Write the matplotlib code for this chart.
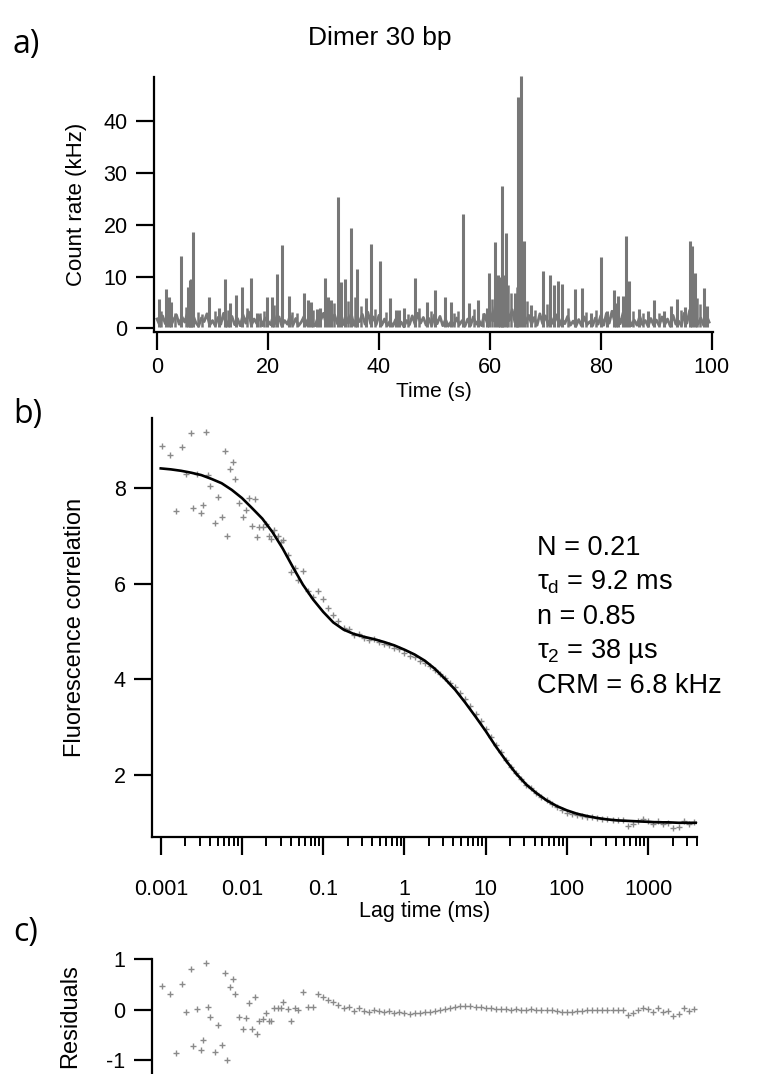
import numpy as np
import matplotlib
matplotlib.use("Agg")
import matplotlib.pyplot as plt
from matplotlib.ticker import FixedLocator, FixedFormatter, NullFormatter

# ---------------- data ----------------
# panel a: count-rate trace (kHz); baseline sampled every 0.5 s, plus burst spikes
baseline_t0, baseline_dt = 0.0, 0.5
baseline = [
    1.8, 0.6, 2.4, 0.9, 3.1, 0.5, 1.7, 2.6, 0.8, 2.2, 1.2, 3.0, 0.7, 2.5, 1.1, 0.4, 2.0, 1.3, 2.8, 0.6,
    1.5, 0.5, 2.1, 0.8, 2.9, 0.4, 1.6, 2.3, 0.7, 1.9, 0.5, 2.6, 1.0, 3.2, 0.6, 1.8, 0.9, 2.4, 0.5, 2.0,
    1.4, 0.7, 2.7, 0.9, 2.2, 0.4, 1.5, 0.8, 2.5, 0.6, 1.9, 0.5, 1.2, 2.3, 0.6, 2.8, 1.1, 0.5, 2.1, 1.6,
    2.9, 0.8, 3.4, 1.2, 2.6, 0.9, 3.0, 0.7, 2.4, 1.0, 2.8, 0.6, 2.0, 1.3, 2.7, 0.8, 3.1, 0.9, 2.2, 0.7,
    2.5, 0.6, 1.8, 0.5, 1.4, 0.4, 1.7, 0.6, 1.2, 0.3, 1.5, 0.7, 2.4, 0.8, 2.9, 1.0, 2.1, 0.6, 1.9, 0.5,
    2.6, 0.9, 2.3, 0.5, 1.7, 0.4, 1.3, 0.6, 2.0, 0.7, 1.5, 0.4, 1.8, 0.5, 2.2, 0.8, 1.6, 0.5, 2.7, 1.1,
    3.2, 1.4, 4.5, 1.8, 5.2, 2.0, 4.1, 1.5, 3.6, 1.2, 4.8, 2.2, 3.9, 1.0, 2.5, 0.8, 2.1, 0.6, 2.8, 0.9,
    2.4, 0.7, 2.0, 0.8, 2.6, 0.5, 1.8, 0.9, 2.3, 0.6, 1.4, 0.4, 1.7, 0.5, 2.2, 0.7, 1.3, 0.5, 2.0, 0.8,
    2.5, 0.6, 2.9, 1.0, 3.3, 1.2, 2.7, 0.9, 3.0, 0.8, 2.1, 0.5, 1.6, 0.6, 2.3, 0.7, 1.5, 0.4, 1.9, 0.6,
    1.6, 0.5, 2.2, 0.7, 1.8, 0.4, 2.5, 0.8, 1.4, 0.5, 2.9, 1.0, 3.5, 1.3, 2.4, 0.8, 2.0, 0.6, 2.6, 1.2,
]
spike_t = [0.3, 1.6, 2.1, 2.5, 4.3, 5.6, 5.9, 6.2, 6.5, 9.3, 11.2, 12.3, 13.2, 14.2, 15.4,
           17.0, 18.0, 19.8, 20.7, 21.6, 22.6, 23.7, 26.5, 27.3, 27.7, 28.8, 29.3, 30.3, 30.9, 31.4,
           32.7, 33.1, 33.9, 35.0, 36.0, 37.6, 38.6, 40.2, 42.0, 43.0, 43.6, 44.6, 46.5, 48.7, 50.1,
           51.9, 52.9, 55.1, 56.3, 57.9, 59.4, 59.9, 61.0, 61.5, 61.9, 62.1, 62.4, 62.9, 64.5, 65.1,
           65.6, 66.1, 67.4, 69.5, 70.9, 71.6, 72.3, 73.0, 75.4, 76.6, 78.2, 80.0, 81.1, 82.3, 83.1,
           83.9, 84.5, 85.1, 86.9, 88.5, 89.6, 91.3, 92.6, 93.8, 95.2, 96.0, 96.5, 96.9, 98.6, 99.2]
spike_h = [5.6, 7.5, 6.0, 5.0, 14.0, 8.0, 9.3, 9.5, 18.5, 6.1, 3.9, 9.6, 4.9, 6.4, 7.9,
           9.8, 3.0, 6.1, 6.0, 10.4, 16.1, 6.2, 6.9, 5.4, 5.0, 3.8, 4.0, 9.8, 6.0, 5.5,
           25.3, 9.0, 9.5, 19.4, 11.4, 5.9, 16.3, 13.0, 5.8, 3.5, 3.6, 4.0, 9.8, 5.1, 7.4,
           6.1, 5.0, 22.0, 4.8, 5.4, 3.9, 10.6, 16.6, 10.3, 10.0, 27.5, 10.2, 18.3, 6.9, 44.7,
           48.6, 16.8, 4.5, 11.1, 10.3, 8.3, 9.2, 8.6, 7.5, 7.8, 3.0, 13.8, 3.4, 7.4, 6.3,
           6.3, 17.9, 9.2, 3.8, 3.3, 5.4, 3.3, 4.3, 5.7, 4.2, 16.8, 15.8, 10.6, 7.7, 4.4]
# smaller bursts filling the background
small_t = [0.8, 3.2, 5.2, 7.3, 8.1, 10.4, 12.8, 16.3, 18.6, 19.3, 21.1, 24.4, 25.3, 28.2, 31.9,
           34.4, 35.6, 36.8, 39.3, 41.2, 45.3, 47.2, 49.4, 53.6, 54.3, 57.2, 58.7, 60.4, 63.3, 63.8,
           64.9, 66.7, 68.2, 70.2, 74.1, 77.3, 79.1, 82.8, 85.8, 87.6, 90.4, 94.4, 97.4, 97.9]
small_h = [3.4, 3.0, 4.2, 3.1, 2.8, 3.3, 3.6, 3.9, 2.9, 3.4, 4.5, 3.2, 2.9, 3.6, 4.8,
           5.2, 6.1, 4.3, 3.7, 3.2, 2.8, 3.9, 3.3, 2.9, 3.4, 3.8, 3.0, 5.6, 8.4, 6.8,
           7.9, 5.3, 3.5, 4.6, 3.9, 3.1, 3.5, 4.8, 3.4, 3.0, 2.9, 3.6, 5.8, 4.7]

# panel b/c: correlation data (lag in ms), correlation value, residual
lag = [0.00105, 0.00129, 0.00155, 0.00182, 0.00204, 0.00234, 0.00251, 0.00282, 0.00309, 0.00331,
       0.00363, 0.00385, 0.00404, 0.00465, 0.00511, 0.00562, 0.00617, 0.00661, 0.00710, 0.00767,
       0.00818, 0.00908, 0.01035, 0.01117, 0.01225, 0.01334, 0.01439, 0.01510, 0.01626, 0.01807,
       0.01959, 0.02158, 0.02307, 0.02472, 0.02754, 0.03034, 0.03236, 0.03715, 0.03981, 0.04539,
       0.04898,
       0.0562, 0.0649, 0.0750, 0.0866, 0.100, 0.1155, 0.1334, 0.154, 0.178, 0.205, 0.237, 0.274,
       0.316, 0.365, 0.422, 0.487, 0.562, 0.649, 0.750, 0.866, 1.0, 1.155, 1.334, 1.54, 1.78,
       2.05, 2.37, 2.74, 3.16, 3.65, 4.22, 4.87, 5.62, 6.49, 7.50, 8.66, 10.0, 11.55, 13.34, 15.4,
       17.8, 20.5, 23.7, 27.4, 31.6, 36.5, 42.2, 48.7, 56.2, 64.9, 75.0, 86.6, 100, 115.5, 133.4,
       154, 178, 205, 237, 274, 316, 365, 422, 487, 562, 649, 750, 866, 1000, 1155, 1334, 1540,
       1780, 2050, 2370, 2740, 3160, 3650]
corr = [8.88, 8.70, 7.52, 8.86, 8.29, 9.14, 7.59, 8.29, 7.47, 7.65,
        9.17, 8.28, 8.04, 7.27, 7.81, 7.40, 8.77, 7.00, 8.39, 8.55,
        8.19, 7.68, 7.39, 7.53, 7.80, 7.21, 7.78, 6.98, 7.19, 7.18,
        7.24, 7.00, 6.94, 7.12, 7.00, 6.87, 6.91, 6.59, 6.25, 6.33,
        6.08,
        6.27, 5.84, 5.72, 5.84, 5.67, 5.50, 5.34, 5.21, 5.08, 5.05, 4.93, 4.95,
        4.87, 4.83, 4.84, 4.78, 4.73, 4.72, 4.65, 4.63, 4.55, 4.49, 4.46, 4.39, 4.34,
        4.27, 4.19, 4.12, 4.02, 3.93, 3.83, 3.72, 3.59, 3.44, 3.28, 3.12, 2.96, 2.79, 2.62, 2.47,
        2.31, 2.17, 2.04, 1.91, 1.80, 1.72, 1.62, 1.54, 1.47, 1.40, 1.33, 1.27, 1.21, 1.19, 1.16,
        1.15, 1.13, 1.12, 1.10, 1.08, 1.07, 1.05, 1.05, 1.05, 0.94, 0.98, 1.03, 1.07, 1.03, 0.97, 1.04, 0.97,
        0.99, 0.89, 0.91, 1.04, 0.97, 1.02]
resid = [0.47, 0.30, -0.86, 0.50, -0.05, 0.81, -0.71, 0.01, -0.79, -0.60,
         0.92, 0.06, -0.15, -0.84, -0.30, -0.70, 0.72, -1.00, 0.45, 0.61,
         0.30, -0.15, -0.38, -0.17, 0.14, -0.38, 0.25, -0.48, -0.22, -0.19,
         -0.06, -0.22, -0.22, 0.03, 0.03, 0.03, 0.16, 0.02, -0.22, 0.03,
         0.00,
         0.34, 0.05, 0.06, 0.30, 0.25, 0.20, 0.16, 0.10, 0.04, 0.06, -0.02, 0.03,
         -0.02, -0.04, 0.00, -0.03, -0.05, -0.03, -0.06, -0.04, -0.07, -0.08, -0.06, -0.07, -0.05,
         -0.04, -0.03, 0.00, 0.01, 0.03, 0.05, 0.07, 0.08, 0.07, 0.06, 0.05, 0.04, 0.03, 0.02, 0.02,
         0.01, 0.00, 0.01, -0.01, 0.00, 0.01, 0.00, -0.01, 0.00, -0.01, -0.02, -0.04, -0.05, -0.04, -0.03,
         -0.02, -0.01, 0.00, 0.00, -0.01, 0.00, -0.01, 0.00, 0.00, -0.10, -0.06, 0.00, 0.04, 0.01, -0.05, 0.03, -0.04,
         -0.02, -0.12, -0.09, 0.04, -0.03, 0.02]

# fitted model curve
fit_lag = [0.001, 0.00133, 0.00178, 0.00237, 0.00316, 0.00422, 0.00562, 0.0075,
           0.01, 0.0133, 0.0178, 0.0237, 0.0316, 0.0422, 0.0562, 0.075,
           0.1, 0.133, 0.178, 0.237, 0.316, 0.422, 0.562, 0.75,
           1.0, 1.33, 1.78, 2.37, 3.16, 4.22, 5.62, 7.5,
           10, 13.3, 17.8, 23.7, 31.6, 42.2, 56.2, 75,
           100, 133, 178, 237, 316, 422, 562, 750,
           1000, 1330, 1780, 2370, 3160, 3980]
fit_val = [8.41, 8.39, 8.36, 8.32, 8.27, 8.19, 8.10, 7.96,
           7.79, 7.58, 7.36, 7.08, 6.74, 6.35, 5.98, 5.67,
           5.41, 5.19, 5.04, 4.95, 4.89, 4.84, 4.78, 4.71,
           4.62, 4.52, 4.39, 4.22, 4.01, 3.78, 3.51, 3.22,
           2.92, 2.60, 2.30, 2.03, 1.80, 1.62, 1.47, 1.35,
           1.26, 1.19, 1.14, 1.10, 1.07, 1.05, 1.04, 1.03,
           1.02, 1.01, 1.01, 1.00, 1.00, 1.00]

trace_a_ticks = [0, 20, 40, 60, 80, 100]
count_ticks = [0, 10, 20, 30, 40]
corr_ticks = [2, 4, 6, 8]
lag_ticks = [0.001, 0.01, 0.1, 1, 10, 100, 1000]
lag_tick_labels = ["0.001", "0.01", "0.1", "1", "10", "100", "1000"]
resid_ticks = [-1, 0, 1]
fit_params = ["N = 0.21", "τ$_{\\rm d}$ = 9.2 ms", "n = 0.85",
              "τ$_{2}$ = 38 µs", "CRM = 6.8 kHz"]

# ---------------- style ----------------
W, H = 757, 1074
plt.rcParams["font.family"] = ["Liberation Sans", "DejaVu Sans"]
plt.rcParams["mathtext.fontset"] = "custom"
plt.rcParams["mathtext.rm"] = "Liberation Sans"
plt.rcParams["mathtext.it"] = "Liberation Sans:italic"
plt.rcParams["axes.unicode_minus"] = False
GRAY = "#777777"
PGRAY = "#8a8a8a"
TICKFS = 15.5
XLABFS = 15
YLABFS = 16

fig = plt.figure(figsize=(W / 100, H / 100), dpi=100)


def px_axes(x0, y0, x1, y1):
    return fig.add_axes([x0 / W, 1 - y1 / H, (x1 - x0) / W, (y1 - y0) / H])


def style(ax):
    for s in ["top", "right"]:
        ax.spines[s].set_visible(False)
    for s in ["left", "bottom"]:
        ax.spines[s].set_linewidth(1.6)
    ax.tick_params(which="major", direction="out", length=13, width=1.6, labelsize=TICKFS)
    ax.tick_params(which="minor", direction="out", length=6.5, width=1.4)


# ---- panel a ----
axA = px_axes(154, 77, 713, 331.7)
style(axA)
bt = [baseline_t0 + i * baseline_dt for i in range(len(baseline))]
axA.plot(bt, baseline, color=GRAY, lw=2.0, clip_on=False)
axA.vlines(small_t, 0.3, small_h, color=GRAY, lw=1.8, clip_on=False)
axA.vlines(spike_t, 0.3, spike_h, color=GRAY, lw=2.2, clip_on=False)
axA.set_xlim(-0.54, 100.2)
axA.set_ylim(-0.65, 48.5)
axA.set_xticks(trace_a_ticks)
axA.set_yticks(count_ticks)
axA.tick_params(axis="x", pad=5)
axA.tick_params(axis="y", pad=6)
axA.set_xlabel("Time (s)", fontsize=XLABFS, labelpad=3)
axA.set_ylabel("Count rate (kHz)", fontsize=YLABFS, labelpad=12)

# ---- panel b ----
axB = px_axes(152, 418, 697, 837)
style(axB)
axB.set_xscale("log")
axB.plot(lag, corr, linestyle="none", marker="+", ms=5, mew=1.0, color=PGRAY)
axB.plot(fit_lag, fit_val, color="black", lw=1.9)
axB.set_xlim(0.00078, 4000)
axB.set_ylim(0.703, 9.464)
axB.set_yticks(corr_ticks)
axB.xaxis.set_major_locator(FixedLocator(lag_ticks))
axB.xaxis.set_major_formatter(FixedFormatter(lag_tick_labels))
minor_pos = [m * d for d in lag_ticks for m in range(2, 10) if m * d <= 4000]
axB.xaxis.set_minor_locator(FixedLocator(minor_pos))
axB.xaxis.set_minor_formatter(NullFormatter())
axB.tick_params(axis="x", which="major", pad=17)
axB.tick_params(axis="y", pad=6)
axB.set_xlabel("Lag time (ms)", fontsize=XLABFS + 0.5, labelpad=1)
axB.set_ylabel("Fluorescence correlation", fontsize=YLABFS + 1, labelpad=20)

for i, s in enumerate(fit_params):
    fig.text(537 / W, 1 - (548 + 34.5 * i) / H, s, fontsize=19.5, va="center", ha="left")

# ---- panel c ----
axC = px_axes(152, 959, 697, 1074)
style(axC)
axC.spines["bottom"].set_visible(False)
axC.set_xscale("log")
axC.plot(lag, resid, linestyle="none", marker="+", ms=4.5, mew=1.0, color=PGRAY, clip_on=False)
axC.set_xlim(0.00078, 4000)
axC.set_ylim(-1.27, 1.0)
axC.set_yticks(resid_ticks)
axC.set_xticks([])
axC.xaxis.set_minor_locator(FixedLocator([]))
axC.tick_params(axis="y", pad=6)
axC.set_ylabel("Residuals", fontsize=YLABFS + 1, labelpad=18)

# ---- titles / panel letters ----
fig.text(380 / W, 1 - 38 / H, "Dimer 30 bp", fontsize=19, ha="center", va="center")
for lbl, y in [("a)", 45), ("b)", 415), ("c)", 933)]:
    fig.text(13 / W, 1 - y / H, lbl, fontsize=23, ha="left", va="center",
             family=["Open Sans", "DejaVu Sans"])

fig.savefig("out.png", dpi=100)
